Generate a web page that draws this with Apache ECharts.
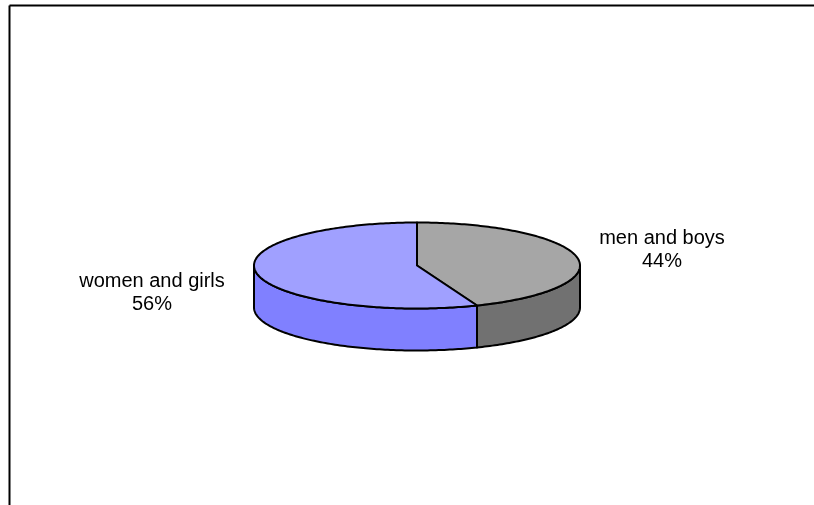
<!DOCTYPE html>
<html>
<head>
<meta charset="utf-8">
<script src="https://cdn.jsdelivr.net/npm/echarts@6/dist/echarts.min.js"></script>
<style>
  html, body { margin: 0; padding: 0; background: #fff; }
  #chart { width: 814px; height: 505px; }
</style>
</head>
<body>
<div id="chart"></div>
<script>
// ---- data ----
const categories = ['men and boys', 'women and girls'];
const values = [44, 56];

// ---- styles / layout ----
const topColors = ['#A6A6A6', '#A0A0FF'];
const sideColors = ['#717171', '#8080FF'];
const labelCenters = [[662, 250], [152, 293]];
const PIE = { cx: 417, cy: 265.5, rx: 163, ry: 43, depth: 42 };

const total = values.reduce((a, b) => a + b, 0);

function pt(th, dy) {
  const r = th * Math.PI / 180;
  return [PIE.cx + PIE.rx * Math.sin(r), PIE.cy - PIE.ry * Math.cos(r) + (dy || 0)];
}
function arc(a, b, dy) {
  const pts = [];
  const n = Math.max(2, Math.ceil(Math.abs(b - a)));
  for (let i = 0; i <= n; i++) pts.push(pt(a + (b - a) * i / n, dy));
  return pts;
}

function renderItem(params, api) {
  const idx = params.dataIndex;
  let before = 0;
  for (let i = 0; i < idx; i++) before += values[i];
  const v = api.value(0);
  const a = before / total * 360;
  const b = (before + v) / total * 360;
  const children = [];
  const s = Math.max(a, 90), e = Math.min(b, 270);
  if (e > s) {
    const pts = arc(s, e, 0).concat(arc(e, s, PIE.depth));
    children.push({
      type: 'polygon', z2: 1,
      shape: { points: pts },
      style: { fill: sideColors[idx], stroke: '#000', lineWidth: 2, lineJoin: 'round' }
    });
  }
  const topPts = [[PIE.cx, PIE.cy]].concat(arc(a, b, 0));
  children.push({
    type: 'polygon', z2: 2,
    shape: { points: topPts },
    style: { fill: topColors[idx], stroke: '#000', lineWidth: 2, lineJoin: 'round' }
  });
  const pct = Math.round(v / total * 100) + '%';
  children.push({
    type: 'text', z2: 3,
    x: labelCenters[idx][0], y: labelCenters[idx][1],
    style: {
      text: categories[idx] + '\n' + pct,
      fill: '#000',
      font: '20px "Liberation Sans", Arial, sans-serif',
      lineHeight: 23,
      align: 'center', verticalAlign: 'middle'
    }
  });
  return { type: 'group', children: children };
}

const chart = echarts.init(document.getElementById('chart'), null, { renderer: 'canvas' });
chart.setOption({
  backgroundColor: '#fff',
  animation: false,
  graphic: [
    { type: 'line', shape: { x1: 9.5, y1: 5.5, x2: 814, y2: 5.5 }, style: { stroke: '#000', lineWidth: 2 } },
    { type: 'line', shape: { x1: 9.5, y1: 5.5, x2: 9.5, y2: 505 }, style: { stroke: '#000', lineWidth: 2 } }
  ],
  series: [{
    type: 'custom',
    coordinateSystem: 'none',
    renderItem: renderItem,
    data: values.map((v, i) => ({ name: categories[i], value: [v] }))
  }]
});
</script>
</body>
</html>
